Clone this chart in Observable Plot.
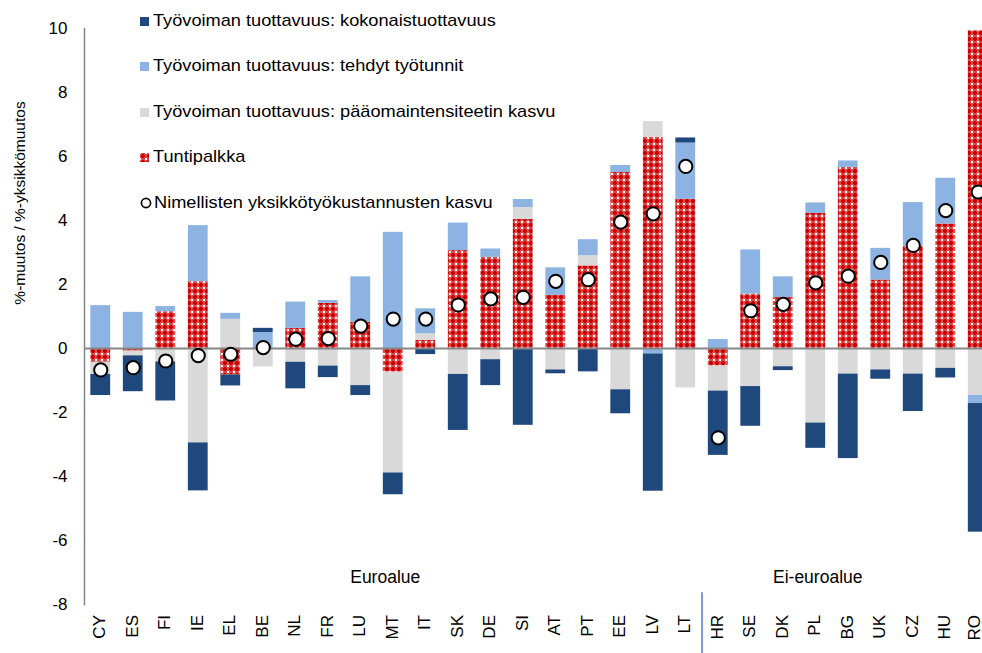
<!DOCTYPE html>
<html>
<head>
<meta charset="utf-8">
<script src="https://cdn.jsdelivr.net/npm/d3@7"></script>
<script src="https://cdn.jsdelivr.net/npm/@observablehq/plot@0.6"></script>
<style>
  html, body { margin: 0; padding: 0; background: #fff; }
  body { font-family: "Liberation Sans", Arial, sans-serif; color: #000; }
  #wrap { position: relative; width: 982px; height: 653px; overflow: hidden; background: #fff; }
  #chart { position: absolute; left: 0; top: 0; }
  .item { position: absolute; left: 140px; height: 22px; display: flex; align-items: center; white-space: nowrap; font-size: 17px; }
  .item .txt { display: inline-block; transform: scaleX(1.07); transform-origin: left center; }
  .sw { width: 9px; height: 9px; margin-right: 4px; flex: none; }
  #ytitle { position: absolute; left: 20px; top: 203px; width: 300px; margin-left: -150px; margin-top: -10px; height: 20px; line-height: 20px; text-align: center; font-size: 15.5px; transform: rotate(-90deg); white-space: nowrap; }
  .stray { position: absolute; left: 513px; width: 19px; height: 8px; }
  .xlab { position: absolute; width: 60px; height: 12px; line-height: 12px; text-align: right; font-size: 17px; white-space: nowrap; transform: rotate(-90deg); transform-origin: 100% 50%; }
</style>
</head>
<body>
<div id="wrap">
  <div id="chart"></div>
  <div id="ytitle">%-muutos / %-yksikkömuutos</div>
  <div id="xlabels"></div>
  <div id="legend"></div>
  <div class="stray" style="top:199px;background:#8db3e2"></div>
  <div class="stray" style="top:207px;background:#d9d9d9"></div>
</div>
<script>
// ---- data ----
const countries = ["CY","ES","FI","IE","EL","BE","NL","FR","LU","MT","IT","SK","DE","SI","AT","PT","EE","LV","LT","HR","SE","DK","PL","BG","UK","CZ","HU","RO"];

// Työvoiman tuottavuus: kokonaistuottavuus
const kokonaistuottavuus = [-0.66,-1.12,-1.22,-1.50,-0.34,0.13,-0.83,-0.36,-0.31,-0.68,-0.19,-1.75,-0.81,-2.40,-0.12,-0.73,-0.75,-4.29,0.16,-2.01,-1.24,-0.12,-0.79,-2.64,-0.29,-1.17,-0.30,-4.02];
// Työvoiman tuottavuus: tehdyt työtunnit
const tehdytTyotunnit = [1.34,1.13,0.16,1.75,0.19,0.50,0.82,0.09,1.42,3.63,0.78,0.86,0.26,0.25,0.86,0.50,0.22,-0.17,1.76,0.28,1.38,0.65,0.33,0.20,0.99,1.36,1.43,-0.25];
// Työvoiman tuottavuus: pääomaintensiteetin kasvu
const paaomaintensiteetti = [-0.38,-0.15,-0.42,-2.95,0.91,-0.58,-0.43,-0.55,-1.16,-3.15,0.21,-0.81,-0.35,0.37,-0.67,0.32,-1.29,0.49,-1.23,-0.78,-1.19,-0.57,-2.33,-0.80,-0.67,-0.80,-0.62,-1.47];
// Tuntipalkka
const tuntipalkka = [-0.43,-0.08,1.15,2.09,-0.83,0,0.63,1.41,0.82,-0.74,0.25,3.06,2.85,4.03,1.66,2.58,5.50,6.60,4.66,-0.55,1.70,1.59,4.22,5.66,2.14,3.20,3.89,9.93];
// Nimellisten yksikkötyökustannusten kasvu
const yksikkotyokustannukset = [-0.67,-0.60,-0.39,-0.22,-0.18,0.03,0.29,0.31,0.70,0.92,0.92,1.36,1.55,1.60,2.10,2.15,3.95,4.21,5.69,-2.79,1.18,1.38,2.05,2.26,2.69,3.22,4.31,4.89];

const yTicks = [-8,-6,-4,-2,0,2,4,6,8,10];

const seriesNames = [
  "Tuntipalkka",
  "Työvoiman tuottavuus: pääomaintensiteetin kasvu",
  "Työvoiman tuottavuus: tehdyt työtunnit",
  "Työvoiman tuottavuus: kokonaistuottavuus"
];
const seriesValues = [tuntipalkka, paaomaintensiteetti, tehdytTyotunnit, kokonaistuottavuus];
const seriesColors = ["url(#redpat)", "#d9d9d9", "#8db3e2", "#1f497d"];
const dotName = "Nimellisten yksikkötyökustannusten kasvu";

const groupLabels = ["Euroalue", "Ei-euroalue"];
const groupAnchors = ["MT", "PL"];

// ---- build tables ----
const rows = seriesNames.flatMap((s, k) => countries.map((c, i) => ({country: c, series: s, value: seriesValues[k][i]})));
const dots = countries.map((c, i) => ({country: c, value: yksikkotyokustannukset[i]}));
const groups = groupLabels.map((g, i) => ({label: g, country: groupAnchors[i]}));

const W = 982, H = 653;
const xRange = [84, 994];
const step = (xRange[1] - xRange[0]) / countries.length;
const marginBottom = 49;

const plot = Plot.plot({
  width: W,
  height: H,
  marginTop: 28,
  marginBottom: marginBottom,
  marginLeft: 84,
  marginRight: 0,
  style: {fontFamily: "'Liberation Sans', Arial, sans-serif", fontSize: "17px", color: "#000", background: "transparent"},
  x: {type: "band", domain: countries, range: xRange, paddingInner: 0.39, paddingOuter: 0.195, round: false, label: null, axis: null},
  y: {domain: [-8, 10], label: null},
  color: {domain: seriesNames, range: seriesColors},
  marks: [
    Plot.barY(rows, {x: "country", y: "value", fill: "series", order: seriesNames}),
    Plot.frame({anchor: "left", stroke: "#868686", strokeWidth: 1.5}),
    Plot.ruleY([0], {stroke: "#868686", strokeWidth: 2}),
    Plot.dot(dots, {x: "country", y: "value", r: 6.6, fill: "white", stroke: "black", strokeWidth: 2}),
    Plot.axisY({ticks: yTicks, tickSize: 0, tickPadding: 17, tickFormat: d => String(d), fontSize: 17}),
    Plot.text(groups, {x: "country", y: () => -7.15, text: "label", fontSize: 17.5, fill: "black"}),
    Plot.ruleX(["HR"], {x: d => d, dx: -step / 2, y1: -7.63, y2: -9.7, stroke: "#4a7ebb", strokeWidth: 1.5})
  ]
});

// pattern for Tuntipalkka
d3.select(plot).insert("defs", ":first-child").html(
  '<pattern id="redpat" width="6" height="6" patternUnits="userSpaceOnUse">' +
  '<rect width="6" height="6" fill="#e04848"/>' +
  '<rect x="1" y="2" width="4" height="2" fill="#c80000"/>' +
  '<rect x="2" y="1" width="2" height="4" fill="#c80000"/>' +
  '<rect x="0" y="0" width="1" height="1" fill="#ffffff"/>' +
  '<rect x="5" y="0" width="1" height="1" fill="#ffffff"/>' +
  '<rect x="0" y="5" width="1" height="1" fill="#ffffff"/>' +
  '<rect x="5" y="5" width="1" height="1" fill="#ffffff"/>' +
  '</pattern>'
);
d3.select(plot).selectAll("text").filter(function() { return this.textContent === "Euroalue"; }).attr("dx", -8);
d3.select(plot).selectAll("text").filter(function() { return this.textContent === "Ei-euroalue"; }).attr("dx", 2);

document.getElementById("chart").appendChild(plot);

// ---- category labels (rotated), positioned through Plot's own x scale ----
const xs = plot.scale("x");
const xLabelTop = H - marginBottom + 11;
const xl = document.getElementById("xlabels");
countries.forEach(c => {
  const cx = Math.min(xs.apply(c) + xs.bandwidth / 2, W - 7);
  const d = document.createElement("div");
  d.className = "xlab";
  d.textContent = c;
  d.style.left = (cx - 60) + "px";
  d.style.top = (xLabelTop - 6) + "px";
  xl.appendChild(d);
});

// ---- legend (HTML overlay) ----
const legendOrder = [
  {name: seriesNames[3], color: seriesColors[3], kind: "sq"},
  {name: seriesNames[2], color: seriesColors[2], kind: "sq"},
  {name: seriesNames[1], color: seriesColors[1], kind: "sq"},
  {name: seriesNames[0], color: "pattern", kind: "pat"},
  {name: dotName, color: null, kind: "dot"}
];
const legend = document.getElementById("legend");
const legendTop = [10, 55, 101, 146, 192];
legendOrder.forEach((it, i) => {
  const row = document.createElement("div");
  row.className = "item";
  row.style.top = legendTop[i] + "px";
  let sw;
  if (it.kind === "sq") {
    sw = `<span class="sw" style="background:${it.color}"></span>`;
  } else if (it.kind === "pat") {
    sw = `<svg class="sw" width="9" height="9" style="width:9px;height:9px"><rect width="9" height="9" fill="url(#redpat)"/></svg>`;
  } else {
    sw = `<svg width="12" height="12" style="margin-right:2px;flex:none"><circle cx="6" cy="6" r="4.6" fill="white" stroke="black" stroke-width="1.6"/></svg>`;
  }
  row.innerHTML = sw + `<span class="txt">${it.name}</span>`;
  legend.appendChild(row);
});
</script>
</body>
</html>
